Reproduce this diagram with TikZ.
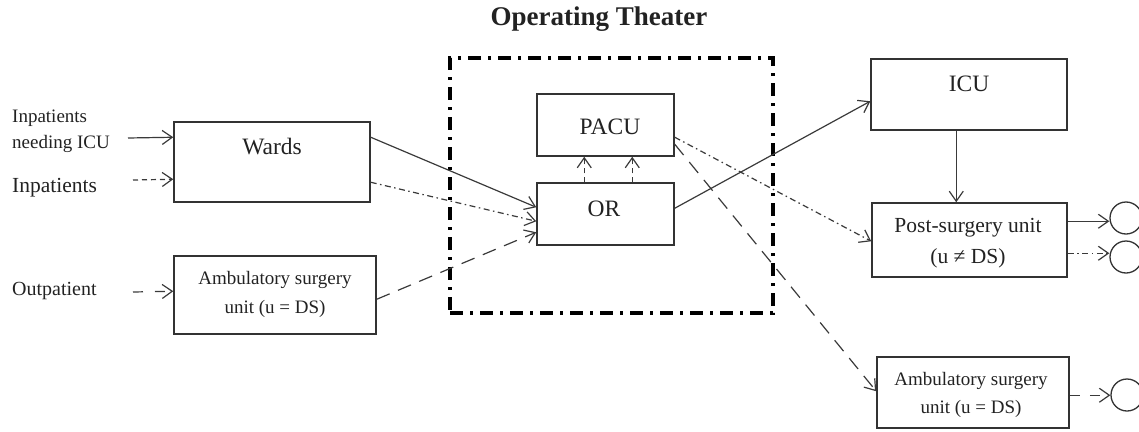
\documentclass[tikz,border=0pt]{standalone}
\usepackage{fontspec}
\setmainfont{Liberation Serif}
\usetikzlibrary{arrows.meta,calc}

\definecolor{ink}{HTML}{222222}
\definecolor{boxline}{HTML}{333333}
\definecolor{wire}{HTML}{3A3A3A}

\begin{document}
\begin{tikzpicture}[x=1pt,y=-1pt,
  box/.style={draw=boxline, line width=1.5pt, inner sep=0pt},
  circ/.style={draw=boxline, line width=1.3pt, circle, minimum size=32pt, inner sep=0pt},
  lbl/.style={anchor=base, inner sep=0pt, text=ink},
  side/.style={anchor=base west, inner sep=0pt, text=ink},
  big/.style={font=\fontsize{23.5}{28}\selectfont},
  mid/.style={font=\fontsize{21.5}{25}\selectfont},
  small/.style={font=\fontsize{19}{23}\selectfont},
  conn/.style={draw=wire, line width=1.2pt, -{Straight Barb[length=10pt,width=14pt]}},
  dashdotline/.style={dash pattern=on 6pt off 3.5pt on 1.5pt off 3.5pt},
  longdash/.style={dash pattern=on 14pt off 9pt},
  shortdash/.style={dash pattern=on 5pt off 4pt},
  sparsedash/.style={dash pattern=on 10pt off 12pt},
  framestyle/.style={draw=black, line width=4pt, dash pattern=on 13pt off 7pt on 3pt off 7pt}
]
\useasboundingbox (0,0) rectangle (1139,431);

% title
\node[lbl, font=\fontsize{27}{32}\selectfont\bfseries] (title) at (599,25) {Operating Theater};

% operating theater frame
\node[framestyle, minimum width=323pt, minimum height=255pt, inner sep=0pt] (theater) at (611.5,185.5) {};

% boxes
\node[box, minimum width=196pt, minimum height=80pt] (wards) at (272,162) {};
\node[box, minimum width=202pt, minimum height=78pt] (ambL) at (275,295) {};
\node[box, minimum width=137pt, minimum height=62pt] (pacu) at (605.5,125) {};
\node[box, minimum width=137pt, minimum height=62pt] (or) at (605.5,214) {};
\node[box, minimum width=196pt, minimum height=71pt] (icu) at (969,94.5) {};
\node[box, minimum width=195pt, minimum height=74pt] (post) at (969.5,240) {};
\node[box, minimum width=192pt, minimum height=71pt] (ambR) at (973,392.5) {};

% exit circles
\node[circ] (c1) at (1126,218) {};
\node[circ] (c2) at (1126,257) {};
\node[circ] (c3) at (1127,395) {};

% box labels
\node[lbl, big] (wardsT) at (272,154) {Wards};
\node[lbl, big] (pacuT) at (610,134) {PACU};
\node[lbl, big] (orT) at (604,216) {OR};
\node[lbl, big] (icuT) at (969,91) {ICU};
\node[lbl, mid] (postT1) at (968,232) {Post-surgery unit};
\node[lbl, mid] (postT2) at (968,263) {(u ≠ DS)};
\node[lbl, small] (ambLT1) at (275,284) {Ambulatory surgery};
\node[lbl, small] (ambLT2) at (275,313) {unit (u = DS)};
\node[lbl, small] (ambRT1) at (971,385) {Ambulatory surgery};
\node[lbl, small] (ambRT2) at (971,413) {unit (u = DS)};

% incoming flows labels
\node[side, small] (inICU1) at (12,122) {Inpatients};
\node[side, small] (inICU2) at (12,148) {needing ICU};
\node[side, mid] (inpat) at (12,192) {Inpatients};
\node[side, font=\fontsize{20}{24}\selectfont] (outpat) at (12,295) {Outpatient};

% free ends of incoming arrows
\coordinate (srcICU) at (128,138);
\coordinate (srcIn) at (133,180);
\coordinate (srcOut) at (133,292);

% incoming arrows
\draw[conn] (srcICU) -- ($(wards.north west)+(0,16)$);
\draw[conn, shortdash] (srcIn) -- ($(wards.north west)+(0,58)$);
\draw[conn, sparsedash] (srcOut) -- ($(ambL.north west)+(0,36)$);

% into OR
\draw[conn] ($(wards.north east)+(0,16)$) -- ($(or.north west)+(0,25)$);
\draw[conn, dashdotline] ($(wards.north east)+(0,61)$) -- ($(or.north west)+(0,39)$);
\draw[conn, longdash] ($(ambL.north east)+(0,44)$) -- ($(or.north west)+(0,50)$);

% OR to PACU
\draw[conn, shortdash] ($(or.north west)+(48,0)$) -- ($(pacu.south west)+(48,0)$);
\draw[conn, shortdash] ($(or.north west)+(96,0)$) -- ($(pacu.south west)+(96,0)$);

% out of the operating theater
\draw[conn] ($(or.north east)+(0,26)$) -- ($(icu.north west)+(0,43)$);
\draw[conn, dashdotline] ($(pacu.north east)+(0,44)$) -- ($(post.north west)+(0,39)$);
\draw[conn, longdash] ($(pacu.north east)+(0,51)$) -- ($(ambR.north west)+(0,35)$);

% ICU to post-surgery unit
\draw[conn] ($(icu.south west)+(86,0)$) -- ($(post.north west)+(85,0)$);

% exits
\coordinate (e1) at ($(post.north east)+(0,19)$);
\coordinate (e2) at ($(post.north east)+(0,51)$);
\coordinate (e3) at ($(ambR.north east)+(0,39)$);
\draw[conn] (e1) -- (e1 -| c1.west);
\draw[conn, dashdotline] (e2) -- (e2 -| c2.west);
\draw[conn, dash pattern=on 10pt off 10pt] (e3) -- (e3 -| c3.west);
\end{tikzpicture}
\end{document}
